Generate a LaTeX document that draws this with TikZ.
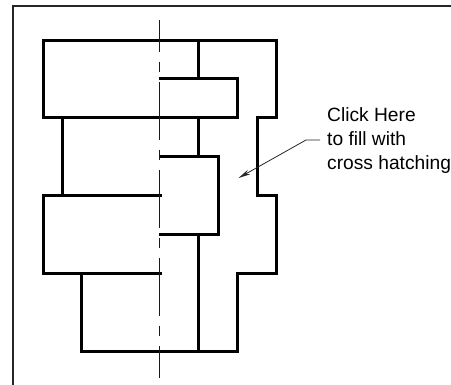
\documentclass[tikz,border=0pt]{standalone}
\usepackage{fontspec}
\setmainfont{Liberation Sans}
\usetikzlibrary{arrows.meta}
\definecolor{centerblue}{RGB}{0,0,220}
\tikzset{
  part/.style={line width=3pt,black,line join=miter,line cap=rect},
  frameline/.style={line width=1.5pt,black!85},
  centerline/.style={line width=1pt,centerblue,dash pattern=on 58pt off 10pt on 10pt off 10pt,dash phase=26pt},
  leader/.style={line width=0.8pt,black!85},
  note/.style={inner sep=0pt,anchor=north west,align=left,font=\fontsize{19.2}{24}\selectfont}
}
\begin{document}
\begin{tikzpicture}[x=1pt,y=-1pt]
\useasboundingbox (0,0) rectangle (451,385);
\fill[white] (0,0) rectangle (451,385);
\draw[frameline] (13,385) -- (13,6) -- (451,6);
\draw[part] (160,196) -- (43,196) -- (43,274) -- (81,274) -- (81,352) -- (237,352) -- (237,274) -- (276,274) -- (276,196) -- (257,196) -- (257,118) -- (276,118) -- (276,41) -- (43,41) -- (43,118) -- (237,118) -- (237,79) -- (160,79);
\draw[part] (62,118) -- (62,196);
\draw[part] (81,274) -- (160,274);
\draw[part] (160,157) -- (218,157) -- (218,235) -- (160,235);
\draw[part] (198,41) -- (198,79);
\draw[part] (198,118) -- (198,157);
\draw[part] (198,235) -- (198,352);
\draw[centerline] (159.5,20) -- (159.5,378);
\node[note] (label) at (327,107.5) {Click Here\\to fill with\\cross hatching};
\coordinate (tip) at (238.5,178);
\coordinate (bend) at (306,140);
\coordinate (start) at (320,140);
\draw[leader,-{Stealth[length=12pt,width=5pt]}] (start) -- (bend) -- (tip);
\end{tikzpicture}
\end{document}
